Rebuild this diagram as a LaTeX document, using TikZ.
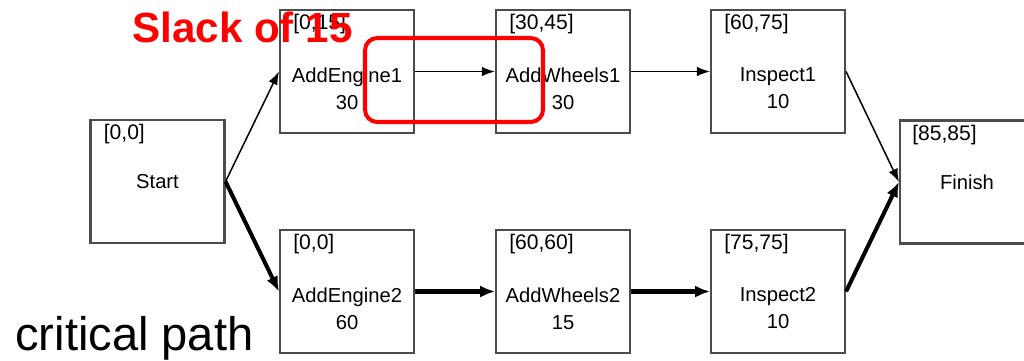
\documentclass[tikz,border=0pt]{standalone}
\usepackage{fontspec}
\setmainfont{Liberation Sans}
\usetikzlibrary{arrows.meta}

\begin{document}
\begin{tikzpicture}[x=0.02cm,y=-0.02cm,
  tache/.style={draw=black!70,line width=1.2pt,minimum width=2.68cm,minimum height=2.46cm,inner sep=0pt,
    font=\fontsize{11.5}{15.4}\selectfont},
  nom/.style={align=center,inner sep=0pt,font=\fontsize{11.5}{15.4}\selectfont},
  dates/.style={anchor=north west,inner sep=0pt,font=\fontsize{12}{14}\selectfont},
  arc/.style={-{Latex[length=7.5pt,width=5.5pt]},line width=0.85pt},
  critique/.style={-{Latex[length=8.5pt,width=7pt]},line width=2.3pt}]

\useasboundingbox (0,0) rectangle (1024,360);
\fill[white] (0,0) rectangle (1024,360);

% Début et fin
\node[tache] (start) at (157.5,181.5) {Start};
\node[tache] (finish) at (967,182) {Finish};
\node[dates] (startd) at ([shift={(14,5)}]start.north west) {[0,0]};
\node[dates] (finishd) at ([shift={(13,5)}]finish.north west) {[85,85]};

% Chaîne 1
\node[tache] (e1) at (347,71.5) {};
\node[tache] (w1) at (563,71.5) {};
\node[tache] (i1) at (778,71.5) {};
\node[nom] (e1n) at ([shift={(0,17)}]e1.center) {AddEngine1\\30};
\node[nom] (w1n) at ([shift={(0,17)}]w1.center) {AddWheels1\\30};
\node[nom] (i1n) at ([shift={(0,17)}]i1.center) {Inspect1\\10};
\node[dates] (e1d) at ([shift={(14,5)}]e1.north west) {[0,15]};
\node[dates] (w1d) at ([shift={(14,5)}]w1.north west) {[30,45]};
\node[dates] (i1d) at ([shift={(14,5)}]i1.north west) {[60,75]};

% Chaîne 2
\node[tache] (e2) at (347,291.5) {};
\node[tache] (w2) at (563,291.5) {};
\node[tache] (i2) at (778,291.5) {};
\node[nom] (e2n) at ([shift={(0,17)}]e2.center) {AddEngine2\\60};
\node[nom] (w2n) at ([shift={(0,17)}]w2.center) {AddWheels2\\15};
\node[nom] (i2n) at ([shift={(0,17)}]i2.center) {Inspect2\\10};
\node[dates] (e2d) at ([shift={(14,5)}]e2.north west) {[0,0]};
\node[dates] (w2d) at ([shift={(14,5)}]w2.north west) {[60,60]};
\node[dates] (i2d) at ([shift={(14,5)}]i2.north west) {[75,75]};

% Arcs
\draw[arc] (start.east) -- (e1.west);
\draw[arc] (e1) -- (w1);
\draw[arc] (w1) -- (i1);
\draw[arc] (i1.east) -- (finish.west);

% Chemin critique
\draw[critique] (start.east) -- (e2.west);
\draw[critique] (e2) -- (w2);
\draw[critique] (w2) -- (i2);
\draw[critique] (i2.east) -- (finish.west);

% Marge
\draw[red,line width=2.3pt,rounded corners=7pt] (365,38) rectangle (543,122);
\node[anchor=base west,inner sep=0pt,text=red,font=\bfseries\fontsize{24}{28}\selectfont] (marge) at (132,42) {Slack of 15};
\node[anchor=base west,inner sep=0pt,font=\fontsize{26.8}{30}\selectfont] (crit) at (15,350) {critical path};

\end{tikzpicture}
\end{document}
